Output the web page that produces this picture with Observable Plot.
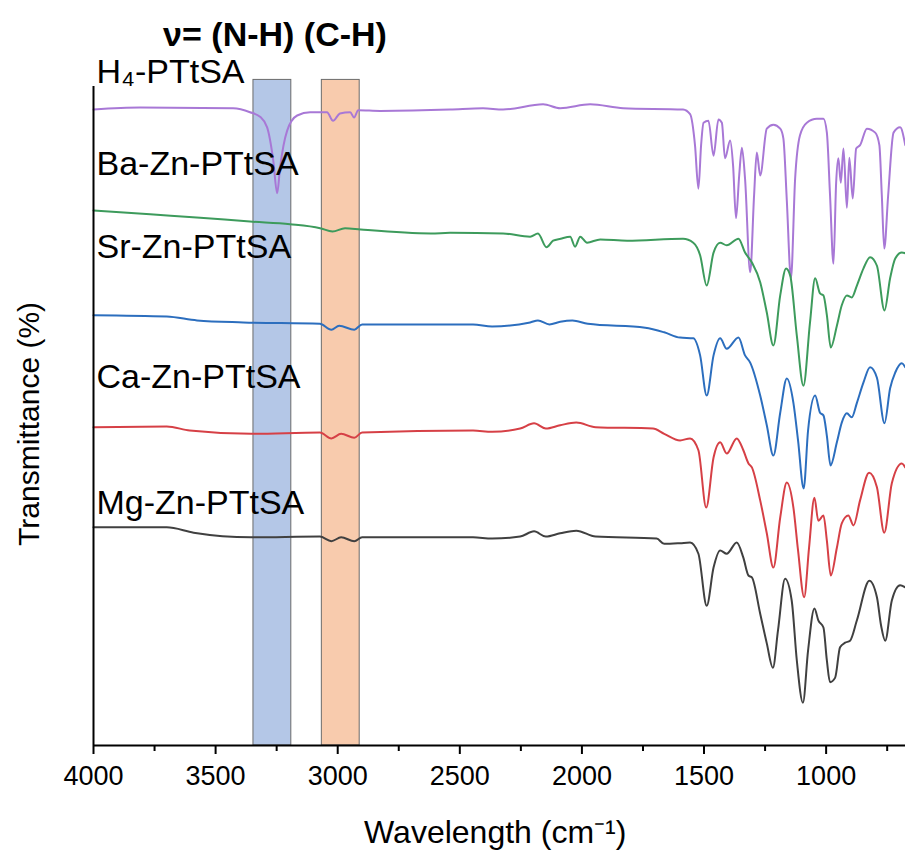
<!DOCTYPE html>
<html><head><meta charset="utf-8">
<script src="https://cdn.jsdelivr.net/npm/d3@7"></script>
<script src="https://cdn.jsdelivr.net/npm/@observablehq/plot@0.6"></script>
<style>body{margin:0;background:#fff;}</style>
</head><body><div id="chart"></div>
<script>
// Series (top to bottom)
const seriesNames = ["H₄-PTtSA", "Ba-Zn-PTtSA", "Sr-Zn-PTtSA", "Ca-Zn-PTtSA", "Mg-Zn-PTtSA"];
const seriesColors = ["#A878D6", "#3D9B5C", "#2C6EBE", "#D64046", "#404040"];

// [wavenumber (cm-1), offset transmittance]
const h4 = [[4000,96.5],[3809,96.8],[3428,96.7],[3359,96.1],[3318,95.4],[3289,93.8],[3264,88.8],[3248,83.8],[3236,87.7],[3207,93.3],[3166,95.6],[3113,96.1],[3044,96.1],[3019,94.8],[2991,95.9],[2949,96.1],[2933,95.3],[2916,96.4],[2826,96.3],[2540,96.5],[2405,96.7],[2323,96.5],[2159,97.3],[2089,96.7],[1966,97.3],[1831,96.7],[1586,96.5],[1557,95.8],[1537,91.1],[1523,84.5],[1512,91.1],[1502,94.5],[1482,94.8],[1461,89.5],[1441,95.0],[1427,94.5],[1414,89.1],[1393,91.8],[1381,88.0],[1369,80.0],[1356,86.5],[1345,90.7],[1332,86.0],[1311,71.8],[1295,83.5],[1284,90.0],[1270,86.5],[1243,93.6],[1216,94.2],[1188,93.6],[1175,92.1],[1161,82.7],[1144,70.9],[1127,86.0],[1107,92.6],[1079,94.5],[1038,95.1],[1011,95.1],[997,93.0],[984,83.5],[970,73.1],[959,85.4],[950,89.1],[940,85.4],[929,90.6],[915,81.6],[905,89.2],[891,83.0],[877,90.6],[861,91.1],[833,93.6],[799,93.0],[782,91.1],[772,83.5],[762,75.4],[746,83.5],[724,93.0],[697,93.8],[676,91.1]];
const ba = [[4000,81.2],[3768,80.6],[3563,80.1],[3359,79.5],[3195,79.1],[3072,78.5],[3021,78.0],[2970,78.5],[2906,78.3],[2618,77.7],[2540,77.8],[2323,77.7],[2212,77.2],[2180,77.7],[2145,75.6],[2118,76.6],[2087,76.9],[2048,77.2],[2028,75.7],[2007,77.2],[1979,76.3],[1925,76.8],[1815,76.6],[1586,76.9],[1544,76.3],[1516,74.4],[1489,69.8],[1461,74.8],[1434,76.3],[1407,75.9],[1359,76.9],[1332,74.8],[1304,73.3],[1270,70.3],[1243,65.7],[1216,60.7],[1188,68.3],[1164,72.4],[1147,71.3],[1120,62.2],[1093,54.6],[1066,64.2],[1045,70.9],[1025,68.6],[1011,68.3],[997,65.3],[981,60.4],[956,63.7],[936,66.8],[915,68.3],[895,68.0],[874,69.8],[847,72.4],[820,74.1],[792,72.8],[761,66.0],[738,70.9],[717,73.9],[690,74.8],[676,74.7]];
const sr = [[4000,65.3],[3700,65.1],[3576,64.5],[3387,64.2],[3073,64.0],[3026,63.1],[2994,63.7],[2932,63.1],[2900,63.9],[2446,63.9],[2368,63.6],[2212,64.2],[2180,64.5],[2133,63.9],[2089,64.3],[2039,64.5],[1976,64.0],[1741,63.4],[1663,62.7],[1598,61.9],[1544,61.8],[1516,59.2],[1489,53.1],[1461,59.2],[1434,61.8],[1407,60.2],[1359,61.9],[1332,59.2],[1311,58.1],[1270,53.1],[1243,48.6],[1216,44.0],[1188,50.5],[1161,55.7],[1134,52.0],[1115,46.3],[1092,39.0],[1074,47.8],[1045,53.1],[1025,50.5],[1011,50.1],[997,47.0],[982,42.5],[956,46.0],[936,49.0],[915,50.4],[895,49.8],[874,52.0],[847,55.1],[820,57.4],[792,55.8],[761,48.9],[738,54.2],[717,56.6],[690,58.0],[676,57.4]];
const ca = [[4000,48.3],[3700,48.4],[3606,47.8],[3355,47.3],[3073,47.5],[3026,46.6],[2986,47.3],[2932,46.7],[2900,47.5],[2446,47.8],[2368,47.6],[2253,48.1],[2196,48.9],[2148,48.1],[2089,48.6],[2023,49.0],[1944,48.3],[1709,48.1],[1663,47.3],[1598,46.3],[1557,46.6],[1523,44.8],[1491,36.1],[1461,43.7],[1434,46.0],[1407,44.3],[1366,46.6],[1339,44.8],[1318,42.8],[1304,42.2],[1270,37.2],[1243,32.2],[1216,27.0],[1188,34.6],[1161,39.9],[1134,36.1],[1115,29.6],[1090,22.5],[1070,30.0],[1048,37.6],[1032,34.1],[1011,34.9],[997,31.1],[981,25.8],[956,30.0],[936,33.7],[909,34.9],[888,33.4],[861,37.2],[824,41.4],[792,39.2],[762,32.3],[731,39.8],[690,42.8],[676,42.2]];
const mg = [[4000,33.1],[3700,33.1],[3590,32.3],[3355,31.6],[3073,31.7],[3026,31.0],[2986,31.6],[2932,31.0],[2900,31.6],[2446,31.6],[2368,31.4],[2253,31.7],[2196,32.5],[2148,31.7],[2089,32.2],[2023,32.6],[1944,31.7],[1694,31.4],[1663,30.6],[1598,30.7],[1557,30.8],[1523,29.1],[1489,21.2],[1461,27.0],[1434,29.6],[1407,29.1],[1366,30.8],[1339,28.5],[1318,25.8],[1304,25.5],[1270,20.0],[1243,15.5],[1218,11.8],[1197,17.5],[1168,25.3],[1141,22.0],[1120,12.9],[1095,6.5],[1074,14.4],[1048,20.8],[1032,19.0],[1011,17.9],[997,12.9],[984,9.6],[963,10.3],[943,14.9],[922,15.6],[902,15.9],[874,19.0],[823,25.0],[792,22.5],[775,18.2],[758,15.9],[731,22.0],[697,24.3],[676,24.0]];

// Highlighted bands (cm-1)
const bandNames = ["N-H", "C-H"];
const bandFrom = [3345, 3065];
const bandTo = [3190, 2910];
const bandColors = ["#B4C7E7", "#F8CBAD"];

// Tick values
const majorTicks = [4000, 3500, 3000, 2500, 2000, 1500, 1000];
const minorTicks = [3750, 3250, 2750, 2250, 1750, 1250, 750];

const title = "ν= (N-H) (C-H)";
const xLabel = "Wavelength (cm⁻¹)";
const yLabel = "Transmittance (%)";

const allSpectra = [h4, ba, sr, ca, mg];
const rows = allSpectra.flatMap((s, i) => s.map(([w, v]) => ({series: seriesNames[i], w, v})));
const bands = bandNames.map((n, i) => ({name: n, from: bandFrom[i], to: bandTo[i], color: bandColors[i]}));
const labelY = [100.5, 86.6, 73.9, 54.2, 35.2];
const labels = seriesNames.map((n, i) => ({name: n, y: labelY[i]}));

const font = "'Liberation Sans', Arial, sans-serif";

const chart = Plot.plot({
  width: 905,
  height: 852,
  marginTop: 86,
  marginBottom: 107,
  marginLeft: 93,
  marginRight: 0,
  style: {fontFamily: font, fontSize: "27px", background: "#fff", color: "#000"},
  x: {domain: [4000, 675]},
  y: {domain: [0, 100], axis: null},
  color: {domain: seriesNames, range: seriesColors},
  marks: [
    Plot.rect(bands, {x1: "from", x2: "to", y1: 0, y2: 101, fill: "color", stroke: "#6b6b6b", strokeWidth: 1}),
    Plot.line(rows, {x: "w", y: "v", z: "series", stroke: "series", strokeWidth: 2, curve: "monotone-x"}),
    Plot.ruleY([0], {stroke: "#000", strokeWidth: 2}),
    Plot.ruleX([4000], {y1: 0, y2: 100, stroke: "#000", strokeWidth: 2}),
    Plot.axisX(majorTicks, {tickSize: 9, tickPadding: 11, strokeWidth: 2, fontSize: 27, label: null, tickFormat: d => String(d)}),
    Plot.axisX(minorTicks, {tickSize: 6, strokeWidth: 2, label: null, tickFormat: () => ""}),
    Plot.text(labels, {x: 4000, y: "y", text: "name", textAnchor: "start", lineAnchor: "bottom", dx: 3, fontSize: 34, fill: "#000"}),
    Plot.text([title], {x: 3715, y: 106.2, text: d => d, textAnchor: "start", lineAnchor: "bottom", fontSize: 34, fontWeight: "bold", fill: "#000"}),
    Plot.text([xLabel], {x: 2355, frameAnchor: "bottom", dy: 97, text: d => d, lineAnchor: "bottom", fontSize: 32, fill: "#000"}),
    Plot.text([yLabel], {x: 4000, y: 48.8, text: d => d, rotate: -90, dx: -64, fontSize: 30, fill: "#000"})
  ]
});
document.getElementById("chart").appendChild(chart);
</script>
</body></html>
